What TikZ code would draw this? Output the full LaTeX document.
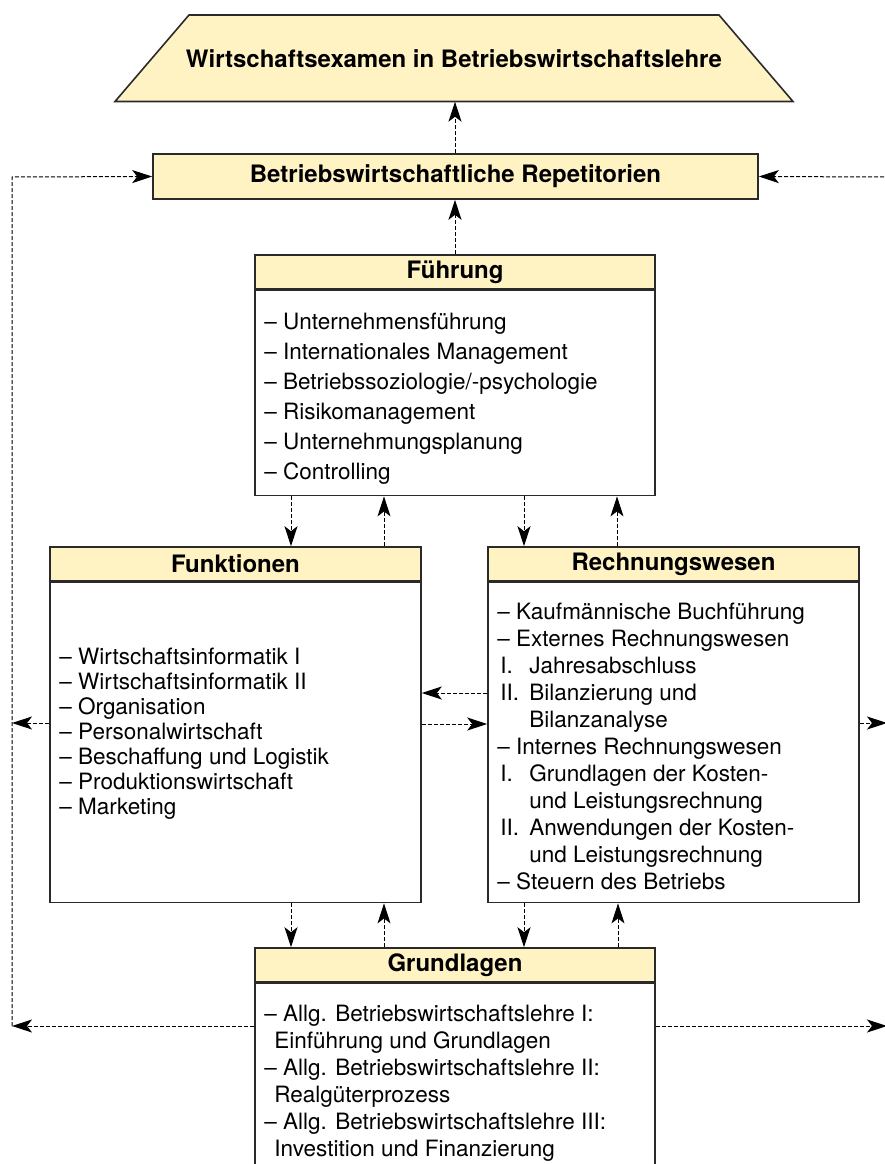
\documentclass[tikz,border=0pt]{standalone}
\usepackage{fontspec}
\setmainfont{TeX Gyre Heros}
\usepackage{xcolor}
\usetikzlibrary{arrows.meta,positioning}
\definecolor{hdrfill}{HTML}{FFF3C4}
\definecolor{boxline}{HTML}{2A2A2A}

\begin{document}
\begin{tikzpicture}[x=1pt,y=-1pt,
  hdr/.style={draw=boxline,fill=hdrfill,line width=1.6pt,minimum height=34pt,
              inner sep=0pt,font=\bfseries\fontsize{24}{28}\selectfont},
  body/.style={draw=boxline,line width=1.6pt,inner sep=0pt},
  lst/.style={inner sep=0pt,anchor=north west,align=left,
              font=\fontsize{22.5}{27}\selectfont},
  flow/.style={-{Stealth[length=20pt,width=13pt,inset=5pt]},line width=1pt,
               dash pattern=on 4pt off 2pt}]
  \useasboundingbox (0,0) rectangle (885,1164);

  % top and repetitorien
  \draw[draw=boxline,fill=hdrfill,line width=1.6pt]
    (189,15) -- (719,15) -- (793,101.5) -- (115,101.5) -- cycle;
  \node[inner sep=0pt,minimum height=86.5pt,font=\bfseries\fontsize{24}{28}\selectfont]
        (examen) at (454,58.25) {Wirtschaftsexamen in Betriebswirtschaftslehre};
  \node[hdr,minimum width=605pt,minimum height=45pt] (repet) at (455.5,176.5)
        {Betriebswirtschaftliche Repetitorien};

  % the four blocks
  \node[hdr,minimum width=400pt] (fuehr) at (455,272) {Führung};
  \node[body,minimum width=400pt,minimum height=205pt,below=0pt of fuehr] (fuehrB) {};
  \node[lst,font=\fontsize{22.5}{30}\selectfont] (fuehrL)
        at ([xshift=10pt,yshift=-22.7pt]fuehrB.north west)
        {– Unternehmensführung\\
         – Internationales Management\\
         – Betriebssoziologie/-psychologie\\
         – Risikomanagement\\
         – Unternehmungsplanung\\
         – Controlling};

  \node[hdr,minimum width=371pt] (funk) at (235.5,564) {Funktionen};
  \node[body,minimum width=371pt,minimum height=320pt,below=0pt of funk] (funkB) {};
  \node[lst,font=\fontsize{22.5}{25}\selectfont] (funkL)
        at ([xshift=10pt,yshift=-65.7pt]funkB.north west)
        {– Wirtschaftsinformatik I\\
         – Wirtschaftsinformatik II\\
         – Organisation\\
         – Personalwirtschaft\\
         – Beschaffung und Logistik\\
         – Produktionswirtschaft\\
         – Marketing};

  \node[hdr,minimum width=371pt] (rech) at (673.5,564) {Rechnungswesen};
  \node[body,minimum width=371pt,minimum height=320pt,below=0pt of rech] (rechB) {};
  \node[lst] (rechL) at ([xshift=10pt,yshift=-20.7pt]rechB.north west)
        {– Kaufmännische Buchführung\\
         – Externes Rechnungswesen\\
         \hspace*{3pt}\makebox[29pt][l]{I.}Jahresabschluss\\
         \hspace*{3pt}\makebox[29pt][l]{II.}Bilanzierung und\\
         \hspace*{32pt}Bilanzanalyse\\
         – Internes Rechnungswesen\\
         \hspace*{3pt}\makebox[29pt][l]{I.}Grundlagen der Kosten-\\
         \hspace*{32pt}und Leistungsrechnung\\
         \hspace*{3pt}\makebox[29pt][l]{II.}Anwendungen der Kosten-\\
         \hspace*{32pt}und Leistungsrechnung\\
         – Steuern des Betriebs};

  \node[hdr,minimum width=400pt] (grund) at (455,965) {Grundlagen};
  \node[body,minimum width=400pt,minimum height=200pt,below=0pt of grund] (grundB) {};
  \node[lst] (grundL) at ([xshift=10pt,yshift=-21.7pt]grundB.north west)
        {– Allg. Betriebswirtschaftslehre I:\\
         \hspace*{10pt}Einführung und Grundlagen\\
         – Allg. Betriebswirtschaftslehre II:\\
         \hspace*{10pt}Realgüterprozess\\
         – Allg. Betriebswirtschaftslehre III:\\
         \hspace*{10pt}Investition und Finanzierung};

  % side lines
  \coordinate (lefttop) at (12,177);
  \coordinate (leftmid) at (12,723);
  \coordinate (leftbot) at (12,1026);
  \coordinate (righttop) at (887,177);
  \coordinate (rightmid) at (887,723);
  \coordinate (rightbot) at (887,1026);

  % connectors
  \draw[flow] (repet.north -| fuehr.north) -- (examen.south -| fuehr.north);
  \draw[flow] (fuehr.north) -- (repet.south -| fuehr.north);
  \draw[flow] (fuehrB.south -| 291,0) -- (funk.north -| 291,0);
  \draw[flow] (funk.north -| 384,0) -- (fuehrB.south -| 384,0);
  \draw[flow] (fuehrB.south -| 524,0) -- (rech.north -| 524,0);
  \draw[flow] (rech.north -| 617,0) -- (fuehrB.south -| 617,0);
  \draw[flow] (funkB.south -| 291,0) -- (grund.north -| 291,0);
  \draw[flow] (grund.north -| 384,0) -- (funkB.south -| 384,0);
  \draw[flow] (rechB.south -| 524,0) -- (grund.north -| 524,0);
  \draw[flow] (grund.north -| 618,0) -- (rechB.south -| 618,0);
  \draw[flow] (rechB.west |- 0,693) -- (funkB.east |- 0,693);
  \draw[flow] (funkB.east |- 0,724) -- (rechB.west |- 0,724);

  \draw[flow] (leftbot) -- (lefttop) -- (repet.west);
  \draw[flow] (funkB.west |- leftmid) -- (leftmid);
  \draw[flow] (grundB.west |- leftbot) -- (leftbot);
  \draw[flow] (rightbot) -- (righttop) -- (repet.east);
  \draw[flow] (rechB.east |- rightmid) -- (rightmid);
  \draw[flow] (grundB.east |- rightbot) -- (rightbot);
\end{tikzpicture}
\end{document}
